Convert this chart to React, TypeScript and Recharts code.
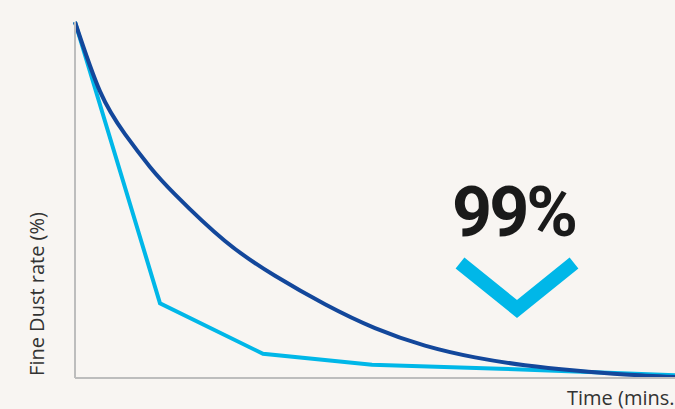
import { LineChart, Line, XAxis, YAxis } from "recharts";

// minutes
const darkTimes = [0, 2.5, 5, 7.5, 10, 15, 20, 25, 30, 35, 40, 45, 50, 55, 60];
const darkRates = [100, 80.5, 68.5, 59.3, 51.6, 38.5, 28.7, 20.7, 14, 9.1, 5.8, 3.6, 2.1, 1.0, 0.3];

const lightTimes = [0, 8.5, 18.8, 29.7, 42.5, 60];
const lightRates = [100, 21, 6.8, 3.7, 2.6, 0.8];

const darkData = darkTimes.map((t, i) => ({ t, rate: darkRates[i] }));
const lightData = lightTimes.map((t, i) => ({ t, rate: lightRates[i] }));

const BG = "#f8f5f2";
const AXIS = "#bdbdbd";

const YTitle = () => (
  <text
    x={44}
    y={294}
    transform="rotate(-90, 44, 294)"
    textAnchor="middle"
    fill="#333"
    fontSize={20}
    fontFamily="'Open Sans', sans-serif"
  >
    Fine Dust rate (%)
  </text>
);

const XTitle = () => (
  <text
    x={567}
    y={405}
    fill="#333"
    fontSize={20}
    fontFamily="'Open Sans', sans-serif"
  >
    Time (mins.
  </text>
);

export default function App() {
  return (
    <div
      style={{
        position: "absolute",
        left: 0,
        top: 0,
        width: 675,
        height: 409,
        background: BG,
        overflow: "hidden",
      }}
    >
      <LineChart
        width={675}
        height={409}
        margin={{ top: 22, right: 0, bottom: 0, left: 0 }}
      >
        <XAxis
          dataKey="t"
          type="number"
          domain={[0, 60]}
          tick={false}
          tickLine={false}
          height={31}
          axisLine={{ stroke: AXIS, strokeWidth: 2 }}
          label={<XTitle />}
        />
        <YAxis
          type="number"
          domain={[0, 100]}
          tick={false}
          tickLine={false}
          width={75}
          axisLine={{ stroke: AXIS, strokeWidth: 2 }}
          label={<YTitle />}
        />
        <Line
          data={lightData}
          dataKey="rate"
          type="linear"
          stroke="#00b7e8"
          strokeWidth={4}
          dot={false}
          isAnimationActive={false}
        />
        <Line
          data={darkData}
          dataKey="rate"
          type="natural"
          stroke="#13479b"
          strokeWidth={4}
          dot={false}
          isAnimationActive={false}
        />
      </LineChart>
      <div
        style={{
          position: "absolute",
          left: 452,
          top: 172,
          fontFamily: "Roboto, sans-serif",
          fontWeight: 700,
          fontSize: 70,
          letterSpacing: -3,
          lineHeight: "80px",
          color: "#1a1a1a",
        }}
      >
        99%
      </div>
      <svg
        style={{ position: "absolute", left: 440, top: 240 }}
        width={160}
        height={90}
      >
        <polyline
          points="20,23 77,69 134,23"
          fill="none"
          stroke="#00b7e8"
          strokeWidth={14}
        />
      </svg>
    </div>
  );
}
